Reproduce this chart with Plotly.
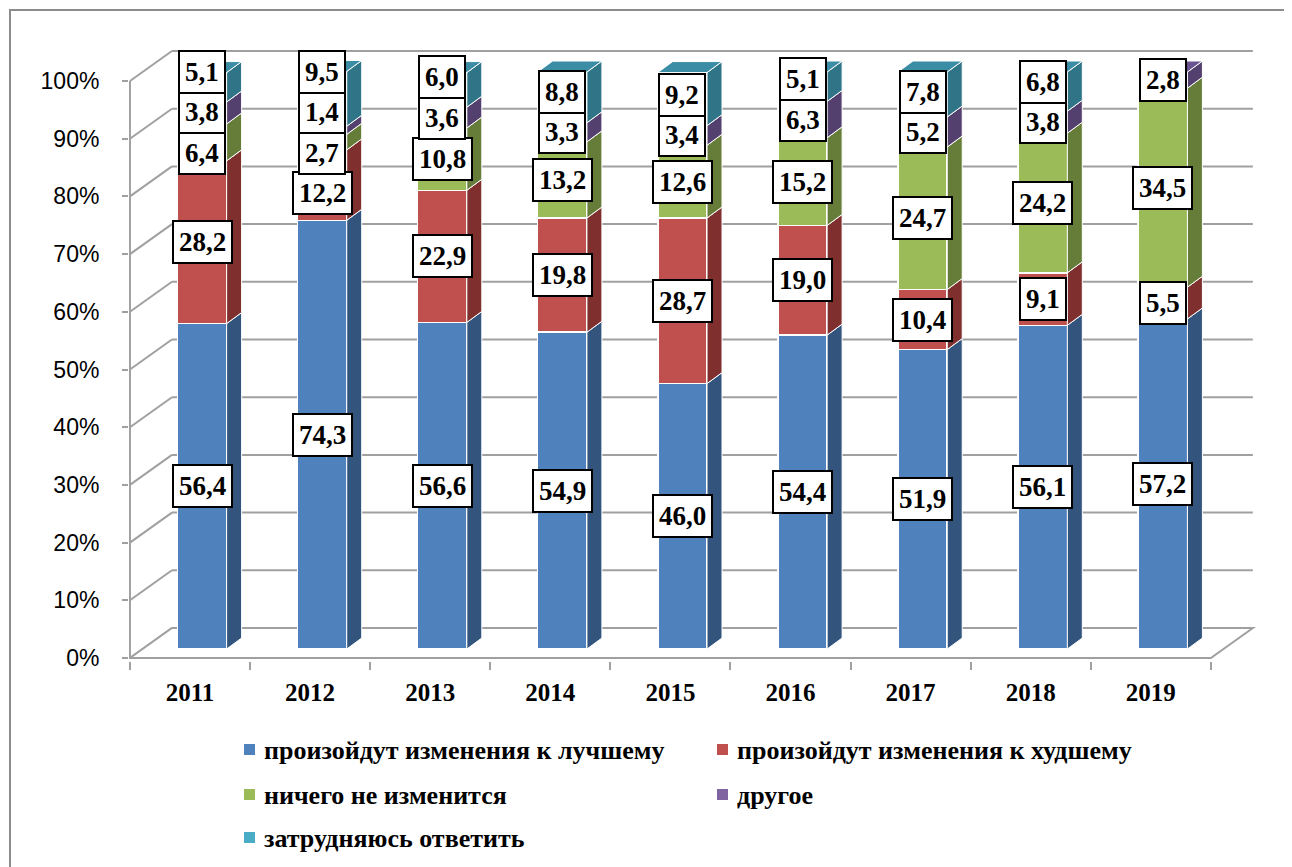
import plotly.graph_objects as go

# ---------------- data ----------------
years = ["2011", "2012", "2013", "2014", "2015", "2016", "2017", "2018", "2019"]
better = [56.4, 74.3, 56.6, 54.9, 46.0, 54.4, 51.9, 56.1, 57.2]
worse = [28.2, 12.2, 22.9, 19.8, 28.7, 19.0, 10.4, 9.1, 5.5]
nothing = [6.4, 2.7, 10.8, 13.2, 12.6, 15.2, 24.7, 24.2, 34.5]
other = [3.8, 1.4, 3.6, 3.3, 3.4, 6.3, 5.2, 3.8, 2.8]
hard = [5.1, 9.5, 6.0, 8.8, 9.2, 5.1, 7.8, 6.8, 0.0]
series_names = [
    "произойдут изменения к лучшему",
    "произойдут изменения к худшему",
    "ничего не изменится",
    "другое",
    "затрудняюсь ответить",
]
y_tick_values = [0, 10, 20, 30, 40, 50, 60, 70, 80, 90, 100]

series = [better, worse, nothing, other, hard]

# ---------------- style ----------------
FRONT = ["#4F81BD", "#C0504D", "#9BBB59", "#8064A2", "#4BACC6"]
SIDE = ["#33557D", "#7F302E", "#667D3A", "#54406E", "#2F7487"]
TOP = ["#4170A6", "#A3413E", "#82A04A", "#6A5390", "#3A8DA5"]
GRID = "#A0A0A0"
SERIF = "Liberation Serif, Times New Roman, serif"
SANS = "Liberation Sans, Arial, sans-serif"

W, H = 1292, 867
SHIFT = 8                         # page body margin: screen px = figure px + SHIFT
def fpx(p):
    return p - SHIFT

PXX, PXY = 120.1, 5.77          # px per category unit / per percent
CAT0_PX, ZERO_PX = fpx(202), fpx(649)      # bar plane origin (figure px)
ML = fpx(129)
MT = fpx(38)
PLOT_RIGHT_PX = fpx(1264)
PLOT_BOTTOM_PX = fpx(661)
MR = W - PLOT_RIGHT_PX
MB = H - PLOT_BOTTOM_PX
x_range = [(ML - CAT0_PX) / PXX, (PLOT_RIGHT_PX - CAT0_PX) / PXX]
y_range = [(ZERO_PX - PLOT_BOTTOM_PX) / PXY, (ZERO_PX - MT) / PXY]

FX, FY = -12 / PXX, -9 / PXY          # front plane offset
BX, BY = 30 / PXX, 21 / PXY           # back wall offset
SDX, SDY = 15 / PXX, 11 / PXY         # bar depth
BW = 0.41                              # bar width
N = len(years)
xs = list(range(N))

fig = go.Figure()
for name, vals, col in zip(series_names, series, FRONT):
    fig.add_trace(go.Bar(
        x=xs, y=vals, name=name, width=BW,
        marker=dict(color=col, line=dict(color="white", width=1.5)),
        showlegend=False, hoverinfo="name+y",
    ))

shapes = []
# back wall gridlines and left wall diagonals
for v in y_tick_values:
    shapes.append(dict(type="line", xref="x", yref="y", layer="below",
                       x0=-0.5 + BX, x1=N - 0.5 + BX, y0=v + BY, y1=v + BY,
                       line=dict(color=GRID, width=2)))
    shapes.append(dict(type="line", xref="x", yref="y", layer="below",
                       x0=-0.5 + FX, x1=-0.5 + BX, y0=v + FY, y1=v + BY,
                       line=dict(color=GRID, width=2)))
# floor
shapes.append(dict(type="path", xref="x", yref="y", layer="below",
                   path=f"M {-0.5+FX} {FY} L {N-0.5+FX} {FY} L {N-0.5+BX} {BY} L {-0.5+BX} {BY} Z",
                   fillcolor="white", line=dict(color=GRID, width=2)))
# vertical axis line
shapes.append(dict(type="line", xref="x", yref="y", layer="below",
                   x0=-0.5 + FX, x1=-0.5 + FX, y0=FY, y1=100 + FY,
                   line=dict(color=GRID, width=2)))

# bar side and top faces
for i in xs:
    cum = 0.0
    x1 = i + BW / 2
    x0 = i - BW / 2
    top_idx = None
    for k, vals in enumerate(series):
        v = vals[i]
        if v <= 0:
            continue
        y0, y1 = cum, cum + v
        shapes.append(dict(type="path", xref="x", yref="y",
                           path=f"M {x1} {y0} L {x1+SDX} {y0+SDY} L {x1+SDX} {y1+SDY} L {x1} {y1} Z",
                           fillcolor=SIDE[k], line=dict(color="white", width=1)))
        cum = y1
        top_idx = k
    shapes.append(dict(type="path", xref="x", yref="y",
                       path=f"M {x0} {cum} L {x1} {cum} L {x1+SDX} {cum+SDY} L {x0+SDX} {cum+SDY} Z",
                       fillcolor=TOP[top_idx], line=dict(color="white", width=1)))

# data labels (white boxes), spread to avoid overlap
GAP = 7.0
TOP_CAP = 100.0
annotations = []
for i in xs:
    cum = 0.0
    items = []
    for k, vals in enumerate(series):
        v = vals[i]
        c = cum + v / 2
        cum += v
        if v > 0:
            items.append([v, c])
    # bottom-up pass
    for j in range(1, len(items)):
        items[j][1] = max(items[j][1], items[j - 1][1] + GAP)
    # top-down pass with cap
    items[-1][1] = min(items[-1][1], TOP_CAP)
    for j in range(len(items) - 2, -1, -1):
        items[j][1] = min(items[j][1], items[j + 1][1] - GAP)
    for v, c in items:
        annotations.append(dict(
            x=i, y=c, xref="x", yref="y", showarrow=False,
            text=f"{v:.1f}".replace(".", ","),
            font=dict(family=SERIF, size=27, color="black", weight="bold"),
            bgcolor="white", bordercolor="black", borderwidth=2, borderpad=5,
        ))

# manual legend
plot_w = PLOT_RIGHT_PX - ML
plot_h = PLOT_BOTTOM_PX - MT
def px2paper(px, py):
    return (fpx(px) - ML) / plot_w, (PLOT_BOTTOM_PX - fpx(py)) / plot_h

legend_pos = [(244, 750), (717, 750), (244, 795), (717, 795), (244, 838)]
for (lx, ly), name, col in zip(legend_pos, series_names, FRONT):
    ax0, ay0 = px2paper(lx, ly - 6)
    ax1, ay1 = px2paper(lx + 11, ly + 5)
    shapes.append(dict(type="rect", xref="paper", yref="paper",
                       x0=ax0, x1=ax1, y0=ay1, y1=ay0, fillcolor=col, line=dict(width=0)))
    tx, ty = px2paper(lx + 18, ly)
    annotations.append(dict(x=tx, y=ty, xref="paper", yref="paper", showarrow=False,
                            xanchor="left", yanchor="middle", text=name,
                            font=dict(family=SERIF, size=26, color="black", weight="bold")))

# outer frame
fx0, fy0 = px2paper(10, 10)
fx1, fy1 = px2paper(W + 30, H + 30)
shapes.append(dict(type="rect", xref="paper", yref="paper", x0=fx0, x1=fx1, y0=fy1, y1=fy0,
                   line=dict(color="#8C8C8C", width=2), fillcolor="rgba(0,0,0,0)", layer="below"))

fig.update_layout(
    barmode="stack",
    width=W, height=H,
    margin=dict(l=ML, r=MR, t=MT, b=MB, pad=0),
    paper_bgcolor="white", plot_bgcolor="white",
    shapes=shapes, annotations=annotations,
    xaxis=dict(range=x_range, tickmode="array",
               tickvals=[i + FX for i in xs], ticktext=years,
               showgrid=False, zeroline=False, showline=False, ticks="",
               ticklabelstandoff=14,
               tickfont=dict(family=SERIF, size=25, color="black", weight="bold"),
               minor=dict(tickmode="array", tickvals=[i - 0.5 + FX for i in range(N + 1)],
                          ticks="outside", ticklen=8, tickcolor=GRID, tickwidth=1.5, showgrid=False)),
    yaxis=dict(range=y_range, tickmode="array",
               tickvals=[v + FY for v in y_tick_values],
               ticktext=[f"{v}%" for v in y_tick_values],
               showgrid=False, zeroline=False, showline=False,
               ticks="outside", ticklen=6, tickcolor=GRID, tickwidth=1.5,
               ticklabelstandoff=18,
               tickfont=dict(family=SANS, size=23, color="black")),
)

fig.write_html("out.html")
